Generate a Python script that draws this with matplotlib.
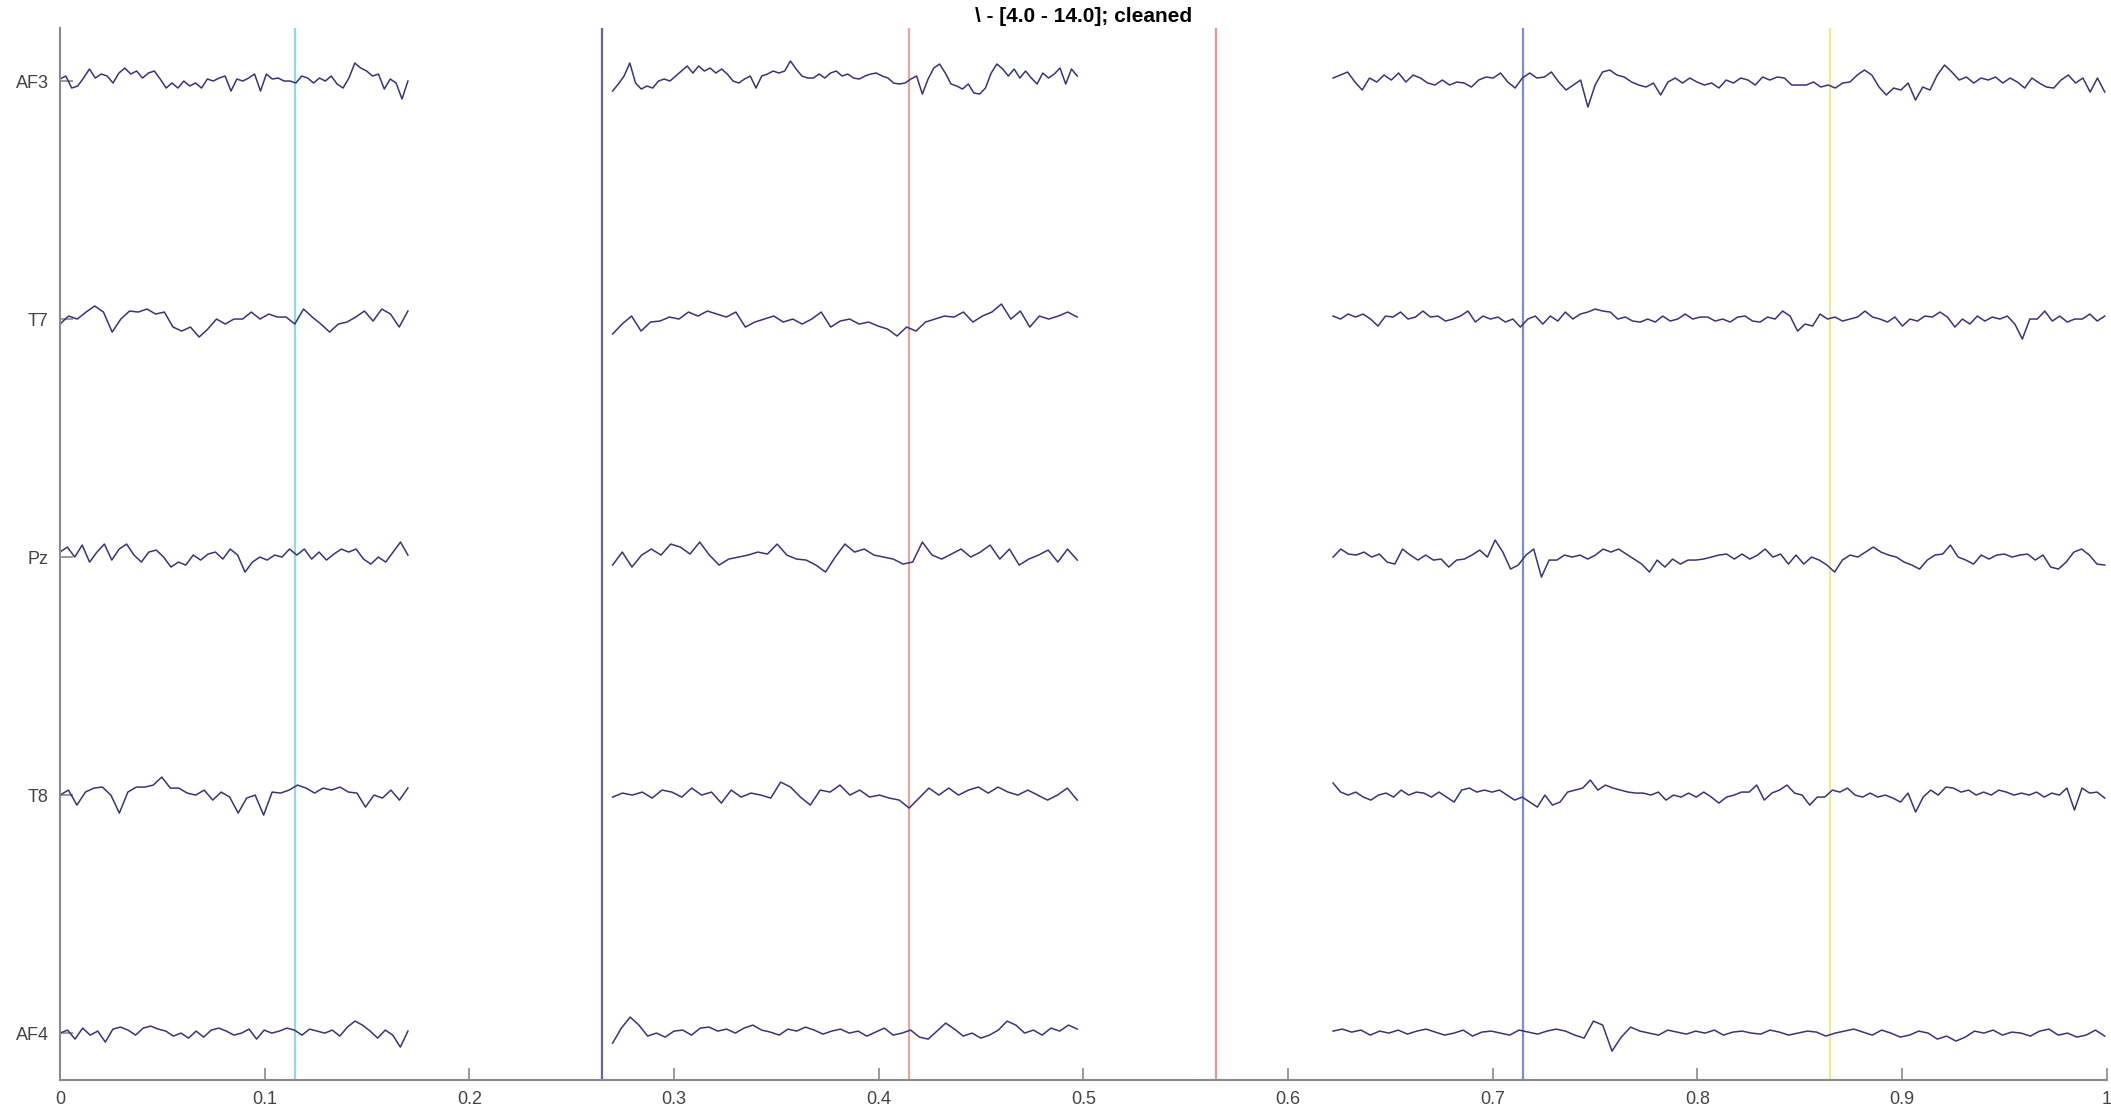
import numpy as np
import matplotlib
matplotlib.use("Agg")
import matplotlib.pyplot as plt

plt.rcParams['font.family'] = ['Liberation Sans', 'DejaVu Sans']

channels = ['AF3', 'T7', 'Pz', 'T8', 'AF4']

# time span of each recorded segment (normalised 0..1)
seg_bounds = [(0.0, 0.170), (0.270, 0.497), (0.622, 0.999)]

# amplitudes (pixels, + = up), one list per segment
af3 = [
    [2, 5, -7, -5, 3, 12, 3, 7, 5, -2, 8, 13, 7, 10, 3, 8, 10, 2, -7, -2, -7, 0, -5, -2, -7, 2, 0, 3, 5, -10,
     2, 0, 3, 7, -10, 7, 2, 3, 0, 0, -2, 5, 3, -2, 3, 0, 5, -3, -7, 3, 18, 13, 10, 5, 7, -8, 2, -2, -18, 0],
    [-10, -3, 5, 18, -2, -8, -5, -7, 0, 2, 0, 5, 10, 15, 8, 15, 10, 13, 8, 12, 7, 0, -2, 2, 5, -7, 5, 7, 10, 8,
     10, 20, 12, 5, 3, 3, 7, 3, 8, 10, 5, 7, 3, 2, 5, 7, 8, 5, 3, -2, -3, -2, 2, 5, -13, 2, 13, 17, 8, -3,
     -5, -8, -3, -12, -13, -7, 8, 17, 12, 5, 12, 3, 10, 3, -3, 8, 3, 7, 13, -3, 12, 5],
    [3, 6, 9, -1, -9, 3, -1, 6, 1, 8, -1, 6, 3, -2, -4, 1, -4, -1, -2, -6, 1, 4, 3, 8, -1, -7, 3, 8, 3, 4,
     9, -1, -9, -4, 1, -26, -4, 9, 11, 6, 4, -1, -4, -6, -2, -14, -1, 3, -2, 3, -1, -4, -2, -7, 1, -2, 3, 1, -4, 4,
     1, 4, 3, -4, -4, -4, -1, -6, -4, -7, -2, -1, 6, 11, 6, -6, -14, -7, -9, -2, -19, -6, -9, 6, 16, 9, 1, 4, -2, 3,
     1, 4, -2, 3, -1, -7, 3, -2, -6, -7, 1, 6, -2, 3, -11, 3, -11],
]
t7 = [
    [-5, 3, 0, 7, 13, 7, -13, 0, 8, 7, 10, 5, 7, -8, -12, -8, -18, -10, 0, -5, 0, 0, 7, 0, 5, 2, 2, -5, 10, 2,
     -5, -13, -5, -3, 2, 8, -2, 10, 5, -8, 8],
    [-15, -5, 3, -12, -3, -2, 2, 0, 7, 3, 8, 5, 2, 7, -8, -3, 0, 3, -3, 0, -5, 0, 7, -8, -2, 0, -5, -3, -7, -10,
     -17, -8, -12, -3, 0, 3, 2, 7, -3, 3, 7, 15, 0, 8, -8, 3, 0, 3, 7, 2],
    [3, 0, 5, 2, 5, 0, -7, 3, 2, 7, 0, 2, 8, 2, 3, -2, 0, 3, 8, -3, 3, 0, 2, -3, 0, -8, 0, 3, -5, 3,
     -2, 7, 0, 5, 7, 10, 8, 7, 0, 2, -2, -3, 0, -3, 3, -2, 0, 5, 0, 2, 2, -2, 0, -3, 2, 3, -2, -3, 2, 0,
     8, 3, -12, -5, -7, 5, 0, 2, -2, 0, 2, 8, 2, 0, -3, 2, -7, 0, -2, 3, 2, 7, 2, -8, 0, -5, 3, -2, 2, 0,
     3, -5, -20, 0, 0, 8, -2, 3, -3, 0, 0, 5, -2, 3],
]
pz = [
    [5, 10, 0, 12, -5, 5, 13, -3, 8, 13, 2, -5, 5, 7, 0, -10, -5, -8, 2, -3, 3, 5, -2, 8, 2, -15, -5, 0, -3, 2,
     0, 8, 2, 8, -2, 5, -3, 3, 8, 5, 8, -2, -7, 0, -5, 5, 15, 2],
    [-8, 5, -10, 2, 8, 2, 13, 10, 3, 15, 2, -8, -2, 0, 2, 5, 3, 13, 2, -2, -3, -8, -15, 0, 13, 5, 8, 2, 0, -2,
     -7, -5, 15, 2, -2, 3, 8, 0, 5, 12, -2, 8, -8, -2, 2, 7, -5, 8, -3],
    [0, 8, 3, 2, 5, 0, 3, -5, -7, 8, 2, -3, 2, -3, -2, -10, -3, -2, 2, 7, 0, 17, 5, -12, -8, 2, 8, -20, -3, -3,
     2, 0, 2, -2, 2, 8, 5, 8, 3, -2, -7, -15, -3, -10, -2, -7, -3, -3, -2, 0, 2, 3, -2, 3, -2, 2, 8, 0, 3, -7,
     2, -7, 0, -3, -8, -15, -3, 2, 0, 5, 10, 5, 2, 0, -5, -8, -12, -3, 2, 3, 12, 0, -3, -7, 2, -2, 2, 3, 0, 2,
     3, -3, 2, -10, -12, -5, 5, 8, 2, -7, -8],
]
t8 = [
    [0, 5, -10, 3, 7, 8, 0, -18, 3, 8, 8, 10, 18, 7, 7, 2, 0, 5, -5, 3, -2, -18, -3, 0, -20, 3, 2, 5, 10, 7,
     2, 7, 5, 8, 3, 2, -12, 0, -3, 5, -5, 7],
    [-2, 2, 0, 3, -3, 5, 3, -2, 7, 0, 3, -8, 5, -2, 2, 0, -3, 13, 8, -2, -10, 5, 3, 10, 0, 5, -2, 0, -3, -5,
     -13, -3, 7, 0, 7, 0, 5, 8, 2, 8, 3, 0, 5, 0, -5, 0, 7, -5],
    [12, 3, 0, 3, -2, -5, 0, 2, -2, 5, 0, 3, 2, -2, 3, -2, -7, 5, 7, 3, 5, 3, 5, 0, -5, -2, -7, -12, 0, -10,
     -7, 3, 5, 7, 15, 5, 10, 7, 5, 3, 2, 2, 0, 3, -5, 0, -2, 2, -2, 3, -2, -8, -2, 0, 3, 3, 10, -5, 2, 5,
     10, 2, 0, -10, -2, -2, 5, 3, 7, 0, -2, 2, -2, 0, -3, -7, 2, -17, -2, 5, 0, 8, 7, 3, 5, 0, 3, 0, 5, 3,
     0, 2, 0, 3, -2, 2, 0, 7, -15, 7, 2, 3, -3],
]
af4 = [
    [0, 3, -6, 5, -2, 2, -9, 4, 6, 3, -2, 5, 7, 4, 2, -3, 0, -5, 2, -4, 3, 5, 2, -2, 0, 4, -6, 3, 0, 2,
     5, 3, -2, 4, 2, 0, 3, -3, 6, 12, 8, 2, -5, 3, -2, -14, 2],
    [-10, 5, 16, 8, -3, 0, -4, 2, 3, -2, 5, 6, 2, 4, 0, 5, 8, 3, 1, -2, 4, 2, 6, 3, -1, 2, 4, 0, 2, -3,
     1, 5, -2, 0, 3, -4, -6, 2, 10, 4, -3, 0, -5, -2, 3, 12, 8, 0, 3, -2, 5, 2, 8, 4],
    [2, 4, 1, 3, -2, 2, 0, 3, -1, 2, 4, 1, -2, 0, 3, -3, 1, 2, 0, -2, 3, 1, -1, 2, 4, 2, -2, -5, 12, 8,
     -18, -4, 6, 2, 0, -2, 3, 1, -1, 2, 0, 3, -2, 1, 2, 0, -1, 3, 1, -2, 0, 2, 1, -3, 0, 2, 4, 1, -2, 3,
     0, -4, -2, 2, 0, -6, -3, -8, -4, 2, 0, 3, -2, 1, 0, -3, 2, 4, -2, 0, -4, -2, 3, -3],
]
traces = [af3, t7, pz, t8, af4]

# event markers
event_x = [0.115, 0.265, 0.415, 0.565, 0.715, 0.865]
event_colors = ['#92d8e8', '#6464ac', '#eca49c', '#e8968c', '#7c8cd8', '#f0e896']

spacing = 238.0
offsets = [spacing * (len(channels) - 1 - i) for i in range(len(channels))]

fig = plt.figure(figsize=(21.11, 11.18), dpi=100)
ax = fig.add_axes([0.0284, 0.034, 0.9696, 0.941])

for xe, c in zip(event_x, event_colors):
    ax.axvline(xe, color=c, lw=1.6, zorder=1)

for ch_vals, off in zip(traces, offsets):
    for (x0, x1), vals in zip(seg_bounds, ch_vals):
        xs = np.linspace(x0, x1, len(vals))
        ax.plot(xs, off + np.array(vals, dtype=float), color='#35357f', lw=1.1, zorder=2)

ax.set_xlim(0, 1)
ax.set_ylim(-0.197 * spacing, 4.223 * spacing)
ax.set_xticks(np.arange(0, 1.01, 0.1))
ax.set_xticklabels(['0', '0.1', '0.2', '0.3', '0.4', '0.5', '0.6', '0.7', '0.8', '0.9', '1'])
ax.set_yticks(offsets)
ax.set_yticklabels(channels)

for s in ['top', 'right']:
    ax.spines[s].set_visible(False)
for s in ['left', 'bottom']:
    ax.spines[s].set_color('#8a8a8a')
    ax.spines[s].set_linewidth(1.5)
ax.tick_params(direction='in', length=9, width=1.2, color='#8a8a8a',
               labelsize=13, labelcolor='#444444', pad=8)

ax.set_title('\\ - [4.0 - 14.0]; cleaned', fontsize=15, fontweight='bold', pad=4)

fig.savefig('out.png', dpi=100)
